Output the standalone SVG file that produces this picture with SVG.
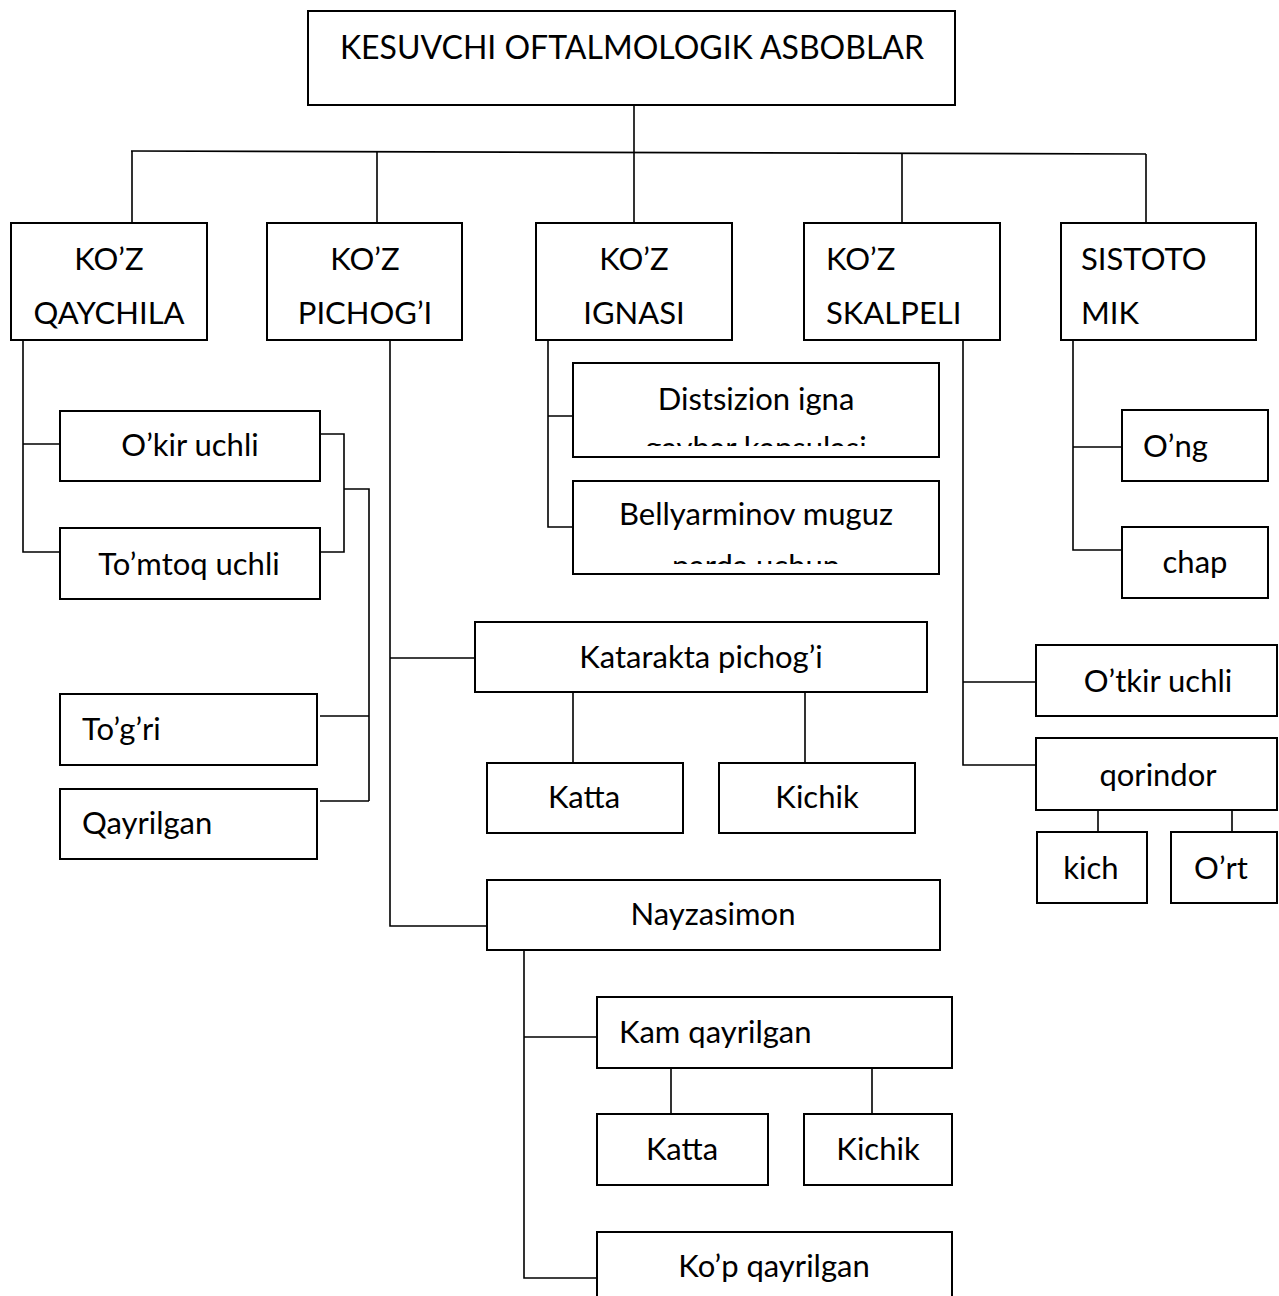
<svg xmlns="http://www.w3.org/2000/svg" width="1279" height="1296" viewBox="0 0 1279 1296">
<style>
.b{fill:#fff;stroke:#000;stroke-width:2}
.t{font-family:Lato,"Liberation Sans",sans-serif;font-size:31px;fill:#000}
.c{text-anchor:middle}
.l{fill:none;stroke:#000;stroke-width:1.6}
</style>
<defs>
<clipPath id="clipD"><rect x="574" y="364" width="364" height="82"/></clipPath>
<clipPath id="clipB"><rect x="574" y="482" width="364" height="82"/></clipPath>
</defs>
<rect width="1279" height="1296" fill="#fff"/>
<g id="connectors" class="l">
<path d="M634 105V152"/>
<path d="M131 151L1146 154"/>
<path d="M132 151V223M377 151.5V223M634 152V223M902 153V223M1146 154V223"/>
<path d="M23 340V552H60M23 444H60"/>
<path d="M320 434H344V552H320M344 489H369V801M320 716H369M320 801H369"/>
<path d="M390 340V926H487M390 658H475"/>
<path d="M573 692V763M805 692V763"/>
<path d="M524 950V1278H597M524 1037H597"/>
<path d="M671 1068V1114M872 1068V1114"/>
<path d="M548 340V527H573M548 416H573"/>
<path d="M963 340V765H1036M963 682H1036"/>
<path d="M1098 810V832M1232 810V832"/>
<path d="M1073 340V550H1122M1073 447H1122"/>
</g>
<g id="root"><rect class="b" x="308" y="11" width="647" height="94"/><text class="t c" x="632" y="59" style="font-size:32px">KESUVCHI OFTALMOLOGIK ASBOBLAR</text></g>
<g id="qaychila"><rect class="b" x="11" y="223" width="196" height="117"/><text class="t c" x="109" y="270">KO’Z</text><text class="t c" x="109" y="324">QAYCHILA</text></g>
<g id="pichogi"><rect class="b" x="267" y="223" width="195" height="117"/><text class="t c" x="365" y="270">KO’Z</text><text class="t c" x="365" y="324">PICHOG’I</text></g>
<g id="ignasi"><rect class="b" x="536" y="223" width="196" height="117"/><text class="t c" x="634" y="270">KO’Z</text><text class="t c" x="634" y="324">IGNASI</text></g>
<g id="skalpeli"><rect class="b" x="804" y="223" width="196" height="117"/><text class="t" x="826" y="270">KO’Z</text><text class="t" x="826" y="324">SKALPELI</text></g>
<g id="sistotomik"><rect class="b" x="1061" y="223" width="195" height="117"/><text class="t" x="1081" y="270">SISTOTO</text><text class="t" x="1081" y="324">MIK</text></g>
<g id="okir"><rect class="b" x="60" y="411" width="260" height="70"/><text class="t c" x="190" y="456">O’kir uchli</text></g>
<g id="tomtoq"><rect class="b" x="60" y="528" width="260" height="71"/><text class="t c" x="189" y="575">To’mtoq uchli</text></g>
<g id="togri"><rect class="b" x="60" y="694" width="257" height="71"/><text class="t" x="82" y="740">To’g’ri</text></g>
<g id="qayrilgan"><rect class="b" x="60" y="789" width="257" height="70"/><text class="t" x="82" y="834">Qayrilgan</text></g>
<g id="katarakta"><rect class="b" x="475" y="622" width="452" height="70"/><text class="t c" x="701" y="668">Katarakta pichog’i</text></g>
<g id="katta1"><rect class="b" x="487" y="763" width="196" height="70"/><text class="t c" x="584" y="808">Katta</text></g>
<g id="kichik1"><rect class="b" x="719" y="763" width="196" height="70"/><text class="t c" x="817" y="808">Kichik</text></g>
<g id="nayzasimon"><rect class="b" x="487" y="880" width="453" height="70"/><text class="t c" x="713" y="925">Nayzasimon</text></g>
<g id="kamqayrilgan"><rect class="b" x="597" y="997" width="355" height="71"/><text class="t" x="619" y="1043">Kam qayrilgan</text></g>
<g id="katta2"><rect class="b" x="597" y="1114" width="171" height="71"/><text class="t c" x="682" y="1160">Katta</text></g>
<g id="kichik2"><rect class="b" x="804" y="1114" width="148" height="71"/><text class="t c" x="878" y="1160">Kichik</text></g>
<g id="kopqayrilgan"><rect class="b" x="597" y="1232" width="355" height="80"/><text class="t c" x="774" y="1277">Ko’p qayrilgan</text></g>
<g id="distsizion"><rect class="b" x="573" y="363" width="366" height="94"/><g clip-path="url(#clipD)"><text class="t c" x="756" y="410">Distsizion igna</text><text class="t c" x="756" y="459">gavhar kapsulasi</text></g></g>
<g id="bellyarminov"><rect class="b" x="573" y="481" width="366" height="93"/><g clip-path="url(#clipB)"><text class="t c" x="756" y="525">Bellyarminov muguz</text><text class="t c" x="756" y="577">parda uchun</text></g></g>
<g id="otkir"><rect class="b" x="1036" y="645" width="241" height="71"/><text class="t c" x="1158" y="692">O’tkir uchli</text></g>
<g id="qorindor"><rect class="b" x="1036" y="738" width="241" height="72"/><text class="t c" x="1158" y="786">qorindor</text></g>
<g id="kich"><rect class="b" x="1037" y="832" width="110" height="71"/><text class="t c" x="1091" y="879">kich</text></g>
<g id="ort"><rect class="b" x="1171" y="832" width="106" height="71"/><text class="t c" x="1221" y="879">O’rt</text></g>
<g id="ong"><rect class="b" x="1122" y="410" width="146" height="71"/><text class="t" x="1143" y="457">O’ng</text></g>
<g id="chap"><rect class="b" x="1122" y="527" width="146" height="71"/><text class="t c" x="1195" y="573">chap</text></g>
</svg>
